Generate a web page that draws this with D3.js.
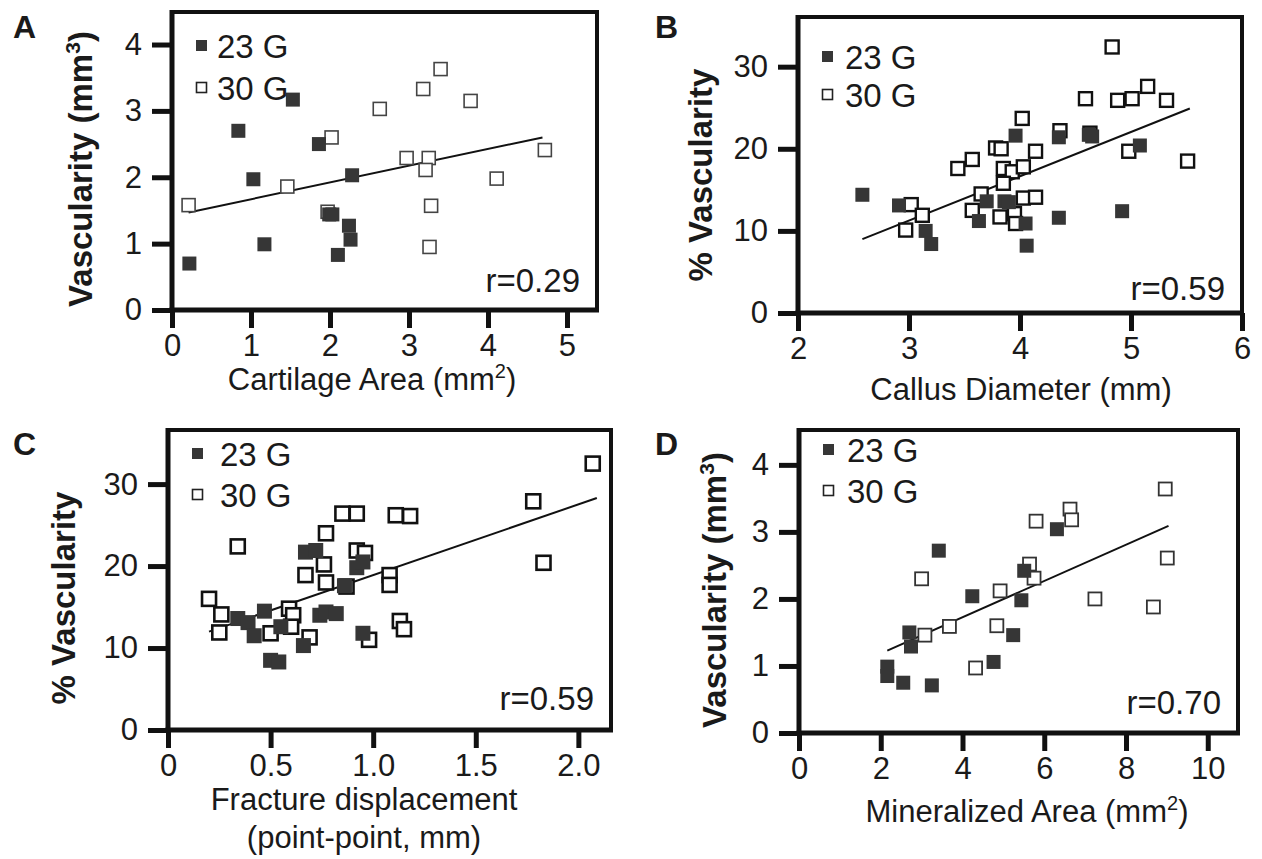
<!DOCTYPE html>
<html>
<head>
<meta charset="utf-8">
<script src="https://cdn.jsdelivr.net/npm/d3@7"></script>
<style>
  body { margin: 0; background: #fff; }
  svg text { font-family: Arial, "Liberation Sans", sans-serif; fill: #1a1a1a; }
</style>
</head>
<body>
<div id="chart"></div>
<script>
// ---- data ----
// A: cartilage area (mm2) vs vascularity (mm3)
var cartilage23 = [[0.22,0.70],[0.84,2.70],[1.03,1.97],[1.17,0.99],[1.53,3.17],[1.86,2.50],[1.99,1.44],[2.03,1.44],[2.28,2.03],[2.24,1.27],[2.26,1.06],[2.10,0.83]];
var cartilage30 = [[0.21,1.58],[1.46,1.86],[1.97,1.48],[2.02,2.60],[2.63,3.03],[2.97,2.29],[3.18,3.33],[3.25,2.29],[3.21,2.11],[3.28,1.57],[3.26,0.95],[3.40,3.63],[3.78,3.15],[4.11,1.98],[4.72,2.41]];
var cartilageFit = [[0.21,1.47],[4.69,2.60]];

// B: callus diameter (mm) vs % vascularity
var callus23 = [[2.58,14.4],[2.91,13.1],[3.15,10.0],[3.20,8.4],[3.63,11.2],[3.70,13.6],[3.86,13.6],[3.90,13.5],[3.96,21.6],[4.05,10.9],[4.06,8.2],[4.35,11.6],[4.35,21.4],[4.62,21.7],[4.65,21.5],[4.92,12.4],[5.08,20.4]];
var callus30 = [[3.02,13.2],[3.12,11.9],[2.97,10.1],[3.44,17.6],[3.57,18.7],[3.57,12.5],[3.65,14.5],[3.78,20.1],[3.83,20.0],[3.82,11.7],[3.85,17.6],[3.93,17.2],[3.85,15.8],[3.95,12.1],[3.96,10.9],[4.03,17.8],[4.03,14.0],[4.14,14.1],[4.02,23.7],[4.14,19.7],[4.36,22.2],[4.59,26.1],[4.63,21.9],[4.83,32.4],[4.88,25.9],[5.01,26.1],[5.15,27.6],[4.98,19.7],[5.32,25.9],[5.51,18.5]];
var callusFit = [[2.58,9.0],[5.53,24.9]];

// C: fracture displacement (mm) vs % vascularity
var fracture23 = [[0.47,14.5],[0.34,13.6],[0.39,13.1],[0.42,11.5],[0.55,12.6],[0.66,10.3],[0.50,8.5],[0.54,8.3],[0.67,21.7],[0.72,21.9],[0.74,14.0],[0.77,14.4],[0.82,14.2],[0.86,17.6],[0.92,19.8],[0.95,20.5],[0.95,11.8]];
var fracture30 = [[2.07,32.5],[1.78,27.9],[1.83,20.4],[0.85,26.4],[0.92,26.4],[1.11,26.2],[1.18,26.1],[0.77,24.0],[0.34,22.4],[0.92,21.9],[0.96,21.6],[0.76,20.2],[0.67,18.9],[0.77,18.0],[1.08,18.9],[1.08,17.7],[0.87,17.5],[0.20,16.0],[0.59,14.8],[0.26,14.1],[0.61,14.0],[0.60,12.6],[0.25,11.9],[0.50,11.8],[0.69,11.3],[1.13,13.3],[1.15,12.3],[0.98,11.0]];
var fractureFit = [[0.20,12.0],[2.09,28.3]];

// D: mineralized area (mm2) vs vascularity (mm3)
var mineral23 = [[2.16,0.99],[2.16,0.85],[2.55,0.75],[3.25,0.71],[2.70,1.50],[2.74,1.29],[3.42,2.72],[4.24,2.04],[4.76,1.06],[5.24,1.46],[5.44,1.98],[5.51,2.42],[6.31,3.04]];
var mineral30 = [[3.00,2.30],[3.08,1.46],[3.68,1.59],[4.32,0.97],[4.84,1.60],[4.92,2.12],[5.64,2.52],[5.75,2.31],[5.80,3.16],[6.63,3.34],[6.67,3.18],[7.24,2.00],[8.67,1.88],[8.96,3.64],[9.01,2.61]];
var mineralFit = [[2.16,1.23],[9.04,3.09]];

// ticks
var ticksA_x = [0, 1, 2, 3, 4, 5];
var ticksA_y = [0, 1, 2, 3, 4];
var ticksB_x = [2, 3, 4, 5, 6];
var ticksB_y = [0, 10, 20, 30];
var ticksC_x = [0, 0.5, 1.0, 1.5, 2.0];
var ticksC_xLabels = ["0", "0.5", "1.0", "1.5", "2.0"];
var ticksC_y = [0, 10, 20, 30];
var ticksD_x = [0, 2, 4, 6, 8, 10];
var ticksD_y = [0, 1, 2, 3, 4];

var groupNames = ["23 G", "30 G"];

var svg = d3.select("#chart")
  .append("svg")
  .attr("width", 1262)
  .attr("height", 859);

// one scatter panel
function drawPanel(p) {
  var x = d3.scaleLinear().domain(p.xDomain).range([p.box.left, p.box.right]);
  var y = d3.scaleLinear().domain(p.yDomain).range([p.box.bottom, p.box.top]);
  var g = svg.append("g");

  // frame
  g.append("rect")
    .attr("x", p.box.left)
    .attr("y", p.box.top)
    .attr("width", p.box.right - p.box.left)
    .attr("height", p.box.bottom - p.box.top)
    .attr("fill", "none")
    .attr("stroke", "#111")
    .attr("stroke-width", 4);

  // axes
  var xAxis = d3.axisBottom(x)
    .tickValues(p.xTicks)
    .tickFormat(function(d, i) { return p.xLabels ? p.xLabels[i] : String(d); })
    .tickSize(18)
    .tickSizeOuter(0)
    .tickPadding(6);
  var yAxis = d3.axisLeft(y)
    .tickValues(p.yTicks)
    .tickFormat(d => String(d))
    .tickSize(20)
    .tickSizeOuter(0)
    .tickPadding(10);

  var gx = g.append("g")
    .attr("transform", `translate(0, ${p.box.bottom})`)
    .call(xAxis);
  var gy = g.append("g")
    .attr("transform", `translate(${p.box.left}, 0)`)
    .call(yAxis);

  [gx, gy].forEach(function(a) {
    a.select(".domain").attr("stroke", "#111").attr("stroke-width", 5);
    a.selectAll(".tick line").attr("stroke", "#111").attr("stroke-width", 5);
    a.selectAll(".tick text")
      .attr("font-size", 31)
      .attr("font-family", "Arial, 'Liberation Sans', sans-serif")
      .attr("fill", "#1a1a1a");
  });
  // bottom axis line spans whole box width, left axis whole height
  gx.select(".domain").attr("d", `M${p.box.left - 2.5},0H${p.box.right + 2}`);
  gy.select(".domain").attr("d", `M0,${p.box.top - 2}V${p.box.bottom + 2.5}`);

  // fit line
  g.append("path")
    .datum(p.fit)
    .attr("fill", "none")
    .attr("stroke", "#111")
    .attr("stroke-width", 2)
    .attr("d", d3.line().x(d => x(d[0])).y(d => y(d[1])));

  var s = p.size;
  // open squares (30 G)
  g.selectAll("rect.open")
    .data(p.open)
    .enter()
    .append("rect")
    .attr("class", "open")
    .attr("x", d => x(d[0]) - s / 2)
    .attr("y", d => y(d[1]) - s / 2)
    .attr("width", s)
    .attr("height", s)
    .attr("fill", "#fff")
    .attr("stroke", p.openStroke)
    .attr("stroke-width", p.openWidth);

  // filled squares (23 G)
  g.selectAll("rect.filled")
    .data(p.filled)
    .enter()
    .append("rect")
    .attr("class", "filled")
    .attr("x", d => x(d[0]) - (s + 1) / 2)
    .attr("y", d => y(d[1]) - (s + 1) / 2)
    .attr("width", s + 1)
    .attr("height", s + 1)
    .attr("fill", "#363636");

  // legend
  var lg = g.append("g")
    .attr("transform", `translate(${p.box.left}, ${p.box.top})`);
  lg.append("rect")
    .attr("x", 24).attr("y", p.leg[0] - 18)
    .attr("width", 11).attr("height", 11)
    .attr("fill", "#363636");
  lg.append("rect")
    .attr("x", 24.5).attr("y", p.leg[1] - 17.5)
    .attr("width", 10).attr("height", 10)
    .attr("fill", "#fff")
    .attr("stroke", "#222")
    .attr("stroke-width", 1.6);
  groupNames.forEach(function(name, i) {
    lg.append("text")
      .attr("x", p.legX)
      .attr("y", p.leg[i])
      .attr("font-size", 33)
      .text(name);
  });

  // r value
  g.append("text")
    .attr("x", p.box.right - 17)
    .attr("y", p.rY)
    .attr("text-anchor", "end")
    .attr("font-size", 33)
    .text(p.r);

  // panel letter
  svg.append("text")
    .attr("x", p.letter[0])
    .attr("y", p.letter[1])
    .attr("font-size", 32)
    .attr("font-weight", "bold")
    .text(p.name);

  // y title (bold, rotated)
  var yt = svg.append("text")
    .attr("transform", `translate(${p.yTitle[0]}, ${p.yTitle[1]}) rotate(-90)`)
    .attr("text-anchor", "middle")
    .attr("font-size", 33)
    .attr("font-weight", "bold");
  yt.append("tspan").text(p.yText[0]);
  if (p.yText[1]) {
    yt.append("tspan").attr("font-size", 21).attr("dy", -12).text(p.yText[1]);
    yt.append("tspan").attr("dy", 12).text(p.yText[2]);
  }

  // x title lines
  p.xText.forEach(function(line, i) {
    var t = svg.append("text")
      .attr("x", p.xTitle[0])
      .attr("y", p.xTitle[1] + i * 38)
      .attr("text-anchor", "middle")
      .attr("font-size", 31);
    t.append("tspan").text(line[0]);
    if (line[1]) {
      t.append("tspan").attr("font-size", 20).attr("dy", -12).text(line[1]);
      t.append("tspan").attr("dy", 12).text(line[2]);
    }
  });
}

drawPanel({
  name: "A", letter: [13, 38],
  box: {left: 172, right: 597, top: 12, bottom: 310},
  xDomain: [0, 5.38], yDomain: [0, 4.49],
  xTicks: ticksA_x, yTicks: ticksA_y,
  filled: cartilage23, open: cartilage30, fit: cartilageFit,
  size: 13, openStroke: "#444", openWidth: 1.6,
  leg: [46, 88], legX: 45,
  r: "r=0.29", rY: 292,
  yText: ["Vascularity (mm", "3", ")"], yTitle: [92, 169],
  xText: [["Cartilage Area (mm", "2", ")"]], xTitle: [372, 390]
});

drawPanel({
  name: "B", letter: [655, 38],
  box: {left: 798, right: 1242, top: 17, bottom: 313},
  xDomain: [2, 6], yDomain: [0, 36.05],
  xTicks: ticksB_x, yTicks: ticksB_y,
  filled: callus23, open: callus30, fit: callusFit,
  size: 13, openStroke: "#111", openWidth: 2.4,
  leg: [52, 90], legX: 47,
  r: "r=0.59", rY: 300,
  yText: ["% Vascularity"], yTitle: [712, 175],
  xText: [["Callus Diameter (mm)"]], xTitle: [1021, 400]
});

drawPanel({
  name: "C", letter: [13, 455],
  box: {left: 168, right: 611, top: 430, bottom: 730},
  xDomain: [0, 2.159], yDomain: [0, 36.6],
  xTicks: ticksC_x, xLabels: ticksC_xLabels, yTicks: ticksC_y,
  filled: fracture23, open: fracture30, fit: fractureFit,
  size: 14, openStroke: "#111", openWidth: 2.6,
  leg: [36, 77], legX: 52,
  r: "r=0.59", rY: 710,
  yText: ["% Vascularity"], yTitle: [75, 598],
  xText: [["Fracture displacement"], ["(point-point, mm)"]], xTitle: [364, 810]
});

drawPanel({
  name: "D", letter: [655, 455],
  box: {left: 799, right: 1238, top: 430, bottom: 733},
  xDomain: [0, 10.74], yDomain: [0, 4.52],
  xTicks: ticksD_x, yTicks: ticksD_y,
  filled: mineral23, open: mineral30, fit: mineralFit,
  size: 13, openStroke: "#333", openWidth: 1.8,
  leg: [32, 73], legX: 48,
  r: "r=0.70", rY: 714,
  yText: ["Vascularity (mm", "3", ")"], yTitle: [726, 590],
  xText: [["Mineralized Area (mm", "2", ")"]], xTitle: [1027, 822]
});
</script>
</body>
</html>
